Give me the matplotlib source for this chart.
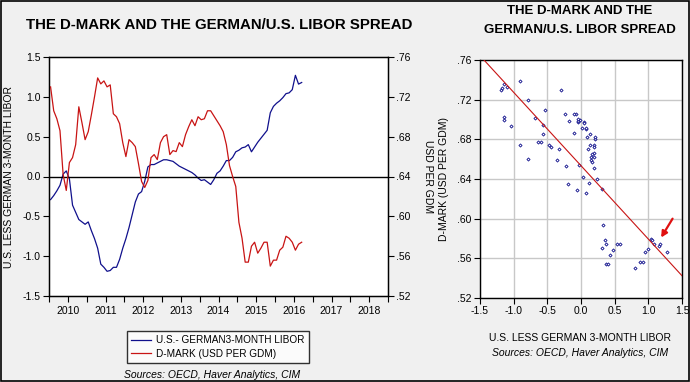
import numpy as np
import matplotlib
matplotlib.use("Agg")
import matplotlib.pyplot as plt
from matplotlib.patches import Rectangle

# ---------------- data ----------------
start_year = 2010
spread = [-0.29, -0.24, -0.18, -0.11, 0.03, 0.07, -0.03, -0.36, -0.45, -0.54,
          -0.57, -0.60, -0.57, -0.68, -0.78, -0.90, -1.10, -1.14, -1.19, -1.18,
          -1.14, -1.14, -1.04, -0.90, -0.78, -0.64, -0.48, -0.32, -0.22, -0.19,
          -0.06, 0.12, 0.15, 0.15, 0.17, 0.19, 0.21, 0.21, 0.20, 0.19,
          0.16, 0.13, 0.11, 0.09, 0.07, 0.05, 0.02, -0.02, -0.05, -0.04,
          -0.07, -0.10, -0.04, 0.04, 0.07, 0.13, 0.20, 0.20, 0.24, 0.31,
          0.33, 0.36, 0.37, 0.40, 0.31, 0.37, 0.43, 0.48, 0.53, 0.58,
          0.80, 0.88, 0.92, 0.95, 0.99, 1.04, 1.05, 1.09, 1.27, 1.16, 1.18]
dmark = [.730, .706, .698, .686, .642, .626, .654, .659, .672, .710,
         .694, .677, .685, .702, .720, .739, .733, .736, .730, .732,
         .703, .700, .693, .674, .660, .677, .674, .670, .653, .635,
         .629, .636, .659, .662, .657, .674, .680, .682, .662, .666,
         .665, .674, .670, .682, .690, .697, .691, .700, .697, .698,
         .706, .706, .701, .696, .691, .685, .672, .651, .640, .630,
         .594, .578, .554, .554, .570, .574, .563, .568, .574, .574,
         .550, .556, .556, .566, .569, .580, .578, .574, .566, .572, .574]
year_labels = [str(y) for y in range(2010, 2019)]
left_yticks = [-1.5, -1.0, -0.5, 0.0, 0.5, 1.0, 1.5]
right_yticks = [.52, .56, .60, .64, .68, .72, .76]
sc_xticks = [-1.5, -1.0, -0.5, 0.0, 0.5, 1.0, 1.5]
sc_yticks = [.52, .56, .60, .64, .68, .72, .76]

BLUE = "#10108c"
RED = "#c81414"
BG = "#f0f0f0"
plt.rcParams['font.family'] = ["Liberation Sans", "DejaVu Sans"]

t = start_year + (np.arange(len(spread)) + 0.5) / 12.0

fig = plt.figure(figsize=(6.9, 3.82), dpi=100)
fig.patch.set_facecolor(BG)
fig.add_artist(Rectangle((0.001, 0.002), 0.997, 0.996, transform=fig.transFigure,
                         fill=False, edgecolor="black", linewidth=1.2))

# ---------------- left time-series chart ----------------
ax = fig.add_axes([49/690, 1-296/382, 339/690, 239/382])
ax.set_facecolor("white")
ax.plot(t, spread, color=BLUE, lw=0.9)
ax.axhline(0, color="black", lw=1)
ax.set_xlim(2010, 2019)
ax.set_ylim(-1.5, 1.5)
ax.set_yticks(left_yticks)
ax.set_yticklabels(["%.1f" % v for v in left_yticks])
ax.set_xticks(np.arange(2010, 2020), labels=[""] * 10)
ax.set_xticks(np.arange(2010, 2019) + 0.5, labels=year_labels, minor=True)
ax.tick_params(axis="x", which="both", direction="out", length=4, width=0.8, labelsize=7.5, pad=3)
ax.tick_params(axis="y", direction="out", length=4, width=0.8, labelsize=7.5, pad=2)
for s in ax.spines.values():
    s.set_linewidth(1)

ax2 = ax.twinx()
ax2.plot(t, dmark, color=RED, lw=0.9)
ax2.set_ylim(.52, .76)
ax2.set_yticks(right_yticks)
ax2.set_yticklabels([("%.2f" % v)[1:] for v in right_yticks])
ax2.tick_params(axis="y", direction="out", length=4, width=0.8, labelsize=7.5, pad=2)
ax2.set_ylabel("USD PER GDM", rotation=270, fontsize=7.5, labelpad=16)
ax.set_ylabel("U.S. LESS GERMAN 3-MONTH LIBOR", fontsize=7.5, labelpad=6)

fig.text(26/690, 1-25/382, "THE D-MARK AND THE GERMAN/U.S. LIBOR SPREAD",
         fontsize=10.8, fontweight="bold", ha="left", va="center")

h1, = ax.plot([], [], color=BLUE, lw=0.9, label="U.S.- GERMAN3-MONTH LIBOR")
h2, = ax.plot([], [], color=RED, lw=0.9, label="D-MARK (USD PER GDM)")
leg = fig.legend(handles=[h1, h2], loc="center", bbox_to_anchor=(218/690, 1-347/382),
                 fontsize=7.2, frameon=True, fancybox=False, edgecolor="black",
                 handlelength=2.0, handletextpad=0.5, borderpad=0.45, labelspacing=0.35)
leg.get_frame().set_linewidth(1)
leg.get_frame().set_facecolor("white")
fig.text(212/690, 1-375/382, "Sources: OECD, Haver Analytics, CIM",
         fontsize=7.5, style="italic", ha="center", va="center")

# ---------------- right scatter chart ----------------
bx = fig.add_axes([480/690, 1-298/382, 202/690, 238/382])
bx.set_facecolor("white")
bx.set_xlim(-1.5, 1.5)
bx.set_ylim(.52, .76)
bx.set_xticks(sc_xticks)
bx.set_xticklabels(["%.1f" % v for v in sc_xticks])
bx.set_yticks(sc_yticks)
bx.set_yticklabels([("%.2f" % v)[1:] for v in sc_yticks])
bx.grid(True, color="#c8c8c8", lw=1)
bx.set_axisbelow(True)
bx.tick_params(direction="out", length=4, width=0.8, labelsize=7.5, pad=2)
bx.scatter(spread, dmark, marker="D", s=2.5, facecolors="white", edgecolors=BLUE,
           linewidths=0.6, zorder=3)
coef = np.polyfit(spread, dmark, 1)
xs = np.array([-1.5, 1.5])
bx.plot(xs, np.polyval(coef, xs), color=RED, lw=0.8, zorder=4)
bx.annotate("", xy=(1.19, 0.581), xytext=(1.36, 0.600),
            arrowprops=dict(arrowstyle="-|>,head_length=0.35,head_width=0.18",
                            color="#e01010", lw=1.6, shrinkA=0, shrinkB=0), zorder=5)
bx.set_ylabel("D-MARK (USD PER GDM)", fontsize=7.5, labelpad=6)
for s in bx.spines.values():
    s.set_linewidth(1)

fig.text(580/690, 1-11/382, "THE D-MARK AND THE", fontsize=9.5, fontweight="bold",
         ha="center", va="center")
fig.text(580/690, 1-30/382, "GERMAN/U.S. LIBOR SPREAD", fontsize=9.5, fontweight="bold",
         ha="center", va="center")
fig.text(580/690, 1-338/382, "U.S. LESS GERMAN 3-MONTH LIBOR", fontsize=7.5,
         ha="center", va="center")
fig.text(580/690, 1-353/382, "Sources: OECD, Haver Analytics, CIM", fontsize=7.5,
         style="italic", ha="center", va="center")

fig.savefig("out.png", dpi=100, facecolor=BG)
